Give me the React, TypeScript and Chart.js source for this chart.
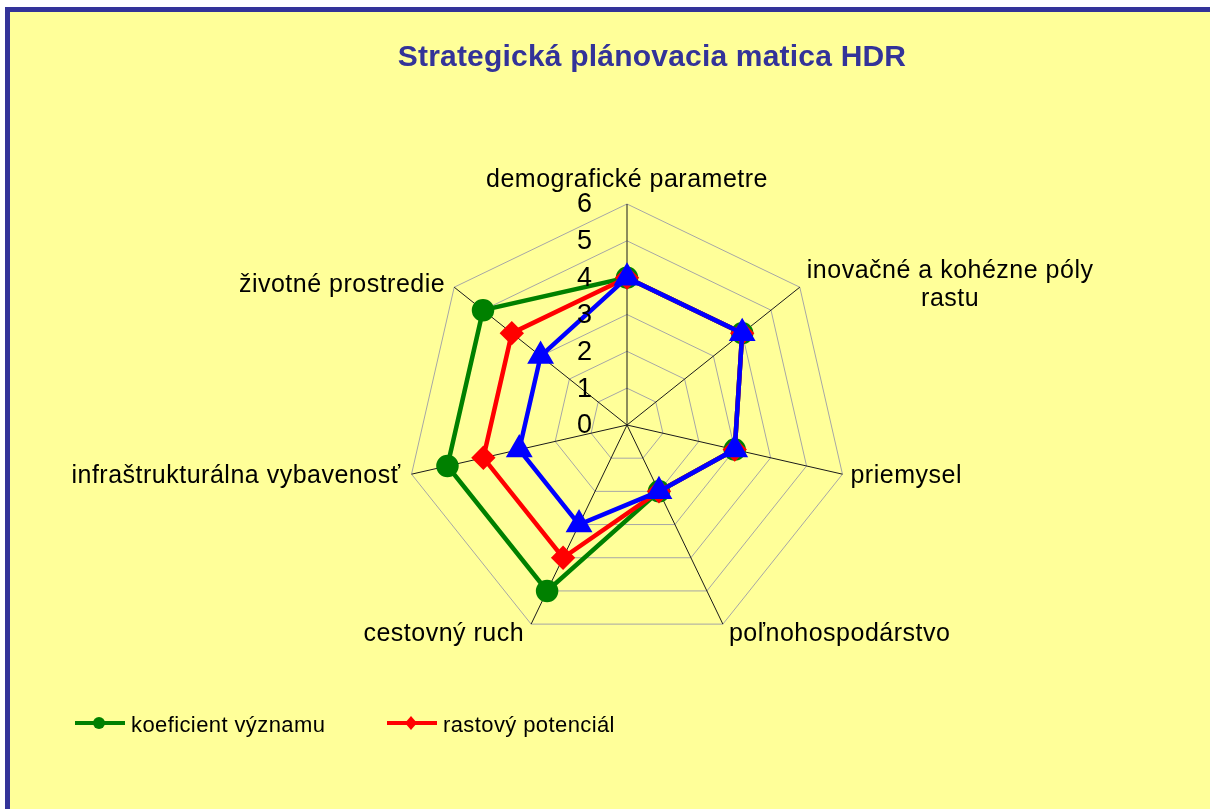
import React, { useEffect, useRef } from 'react';
import { Chart, registerables } from 'chart.js';

Chart.register(...registerables);

const chartTitle = 'Strategická plánovacia matica HDR';
const categories: (string | string[])[] = [
  'demografické parametre',
  ['inovačné a kohézne póly', 'rastu'],
  'priemysel',
  'poľnohospodárstvo',
  'cestovný ruch',
  'infraštrukturálna vybavenosť',
  'životné prostredie',
];
const koeficientVyznamu = [4, 4, 3, 2, 5, 5, 5];
const rastovyPotencial = [4, 4, 3, 2, 4, 4, 4];
const tretiaRada = [4, 4, 3, 2, 3, 3, 3];
const seriesNames = ['koeficient významu', 'rastový potenciál', 'súčasný stav'];
const axisMin = 0;
const axisMax = 6;
const axisStep = 1;

const FONT = '"Liberation Sans", Arial, sans-serif';
const GREEN = '#008000';
const RED = '#ff0000';
const BLUE = '#0000ff';

const decorPlugin = {
  id: 'decor',
  afterDatasetsDraw(chart: any) {
    const ctx: CanvasRenderingContext2D = chart.ctx;
    const scale = chart.scales.r;
    ctx.save();

    // Title
    ctx.fillStyle = '#333399';
    ctx.font = `bold 30px ${FONT}`;
    (ctx as any).letterSpacing = '0.2px';
    ctx.textAlign = 'center';
    ctx.textBaseline = 'alphabetic';
    ctx.fillText(chartTitle, 652, 66);

    // Tick labels
    ctx.fillStyle = '#000';
    ctx.font = `27px ${FONT}`;
    (ctx as any).letterSpacing = '0px';
    ctx.textAlign = 'right';
    ctx.textBaseline = 'middle';
    scale.ticks.forEach((t: any) => {
      const y = scale.yCenter - scale.getDistanceFromCenterForValue(t.value);
      ctx.fillText(String(t.label ?? t.value), scale.xCenter - 35, y + 1);
    });

    // Point labels
    ctx.font = `25px ${FONT}`;
    (ctx as any).letterSpacing = '0.5px';
    ctx.textBaseline = 'alphabetic';
    const labels = chart.data.labels as (string | string[])[];
    const lh = 28;
    labels.forEach((lab, i) => {
      const lines = Array.isArray(lab) ? lab : [lab];
      const p = scale.getPointPosition(i, scale.drawingArea);
      let deg = (scale.getIndexAngle(i) * 180) / Math.PI;
      deg = ((deg % 360) + 360) % 360;
      const widths = lines.map((l) => ctx.measureText(l).width);
      const maxW = Math.max(...widths);
      let left = p.x;
      let firstBase = p.y;
      if (deg < 1 || deg > 359) {
        left = p.x - maxW / 2;
        firstBase = p.y - 17 - (lines.length - 1) * lh;
      } else if (deg < 90) {
        left = p.x + 7;
        firstBase = p.y + 9 - ((lines.length - 1) * lh) / 2 - 4;
      } else if (deg < 135) {
        left = p.x + 8;
        firstBase = p.y + 9 - ((lines.length - 1) * lh) / 2;
      } else if (deg < 180) {
        left = p.x + 6;
        firstBase = p.y + 17;
      } else if (deg < 225) {
        left = p.x - 7 - maxW;
        firstBase = p.y + 17;
      } else if (deg < 270) {
        left = p.x - 11 - maxW;
        firstBase = p.y + 9 - ((lines.length - 1) * lh) / 2;
      } else {
        left = p.x - 9 - maxW;
        firstBase = p.y + 9 - ((lines.length - 1) * lh) / 2 - 4;
      }
      ctx.textAlign = 'center';
      lines.forEach((l, k) => {
        ctx.fillText(l, left + maxW / 2, firstBase + k * lh);
      });
    });

    // Legend (first two series)
    const legendItems = [
      { x: 75, color: GREEN, style: 'circle', name: seriesNames[0] },
      { x: 387, color: RED, style: 'diamond', name: seriesNames[1] },
    ];
    ctx.font = `22px ${FONT}`;
    (ctx as any).letterSpacing = '0.4px';
    ctx.textAlign = 'left';
    legendItems.forEach((it) => {
      const y = 723;
      ctx.strokeStyle = it.color;
      ctx.fillStyle = it.color;
      ctx.lineWidth = 4;
      ctx.beginPath();
      ctx.moveTo(it.x, y);
      ctx.lineTo(it.x + 50, y);
      ctx.stroke();
      const cx = it.x + 24;
      ctx.beginPath();
      if (it.style === 'circle') {
        ctx.arc(cx, y, 6, 0, Math.PI * 2);
      } else {
        ctx.moveTo(cx, y - 7);
        ctx.lineTo(cx + 6, y);
        ctx.lineTo(cx, y + 7);
        ctx.lineTo(cx - 6, y);
        ctx.closePath();
      }
      ctx.fill();
      ctx.fillStyle = '#000';
      ctx.fillText(it.name, it.x + 56, 732);
    });

    ctx.restore();
  },
};

export default function App() {
  const canvasRef = useRef<HTMLCanvasElement | null>(null);

  useEffect(() => {
    const canvas = canvasRef.current;
    if (!canvas) return;
    const chart = new Chart(canvas, {
      type: 'radar',
      data: {
        labels: categories,
        datasets: [
          {
            label: seriesNames[0],
            data: koeficientVyznamu,
            borderColor: GREEN,
            backgroundColor: GREEN,
            pointBackgroundColor: GREEN,
            pointBorderColor: GREEN,
            pointStyle: 'circle',
            pointRadius: 9,
            pointHoverRadius: 9,
            borderWidth: 4.5,
            fill: false,
            order: 3,
          },
          {
            label: seriesNames[1],
            data: rastovyPotencial,
            borderColor: RED,
            backgroundColor: RED,
            pointBackgroundColor: RED,
            pointBorderColor: RED,
            pointStyle: 'rectRot',
            pointRadius: 9,
            pointHoverRadius: 9,
            borderWidth: 4.5,
            fill: false,
            order: 2,
          },
          {
            label: seriesNames[2],
            data: tretiaRada,
            borderColor: BLUE,
            backgroundColor: BLUE,
            pointBackgroundColor: BLUE,
            pointBorderColor: BLUE,
            pointStyle: 'triangle',
            pointRadius: 11,
            pointHoverRadius: 11,
            borderWidth: 4.5,
            fill: false,
            order: 1,
          },
        ],
      },
      options: {
        responsive: false,
        maintainAspectRatio: false,
        animation: false,
        devicePixelRatio: 1,
        layout: { padding: { top: 204, bottom: 163, left: 406, right: 362 } },
        elements: { line: { tension: 0 } },
        plugins: {
          legend: { display: false },
          title: { display: false },
          tooltip: { enabled: false },
        },
        scales: {
          r: {
            min: axisMin,
            max: axisMax,
            ticks: { stepSize: axisStep, display: false },
            grid: { color: '#a6a6a6', lineWidth: 1 },
            angleLines: { display: true, color: '#1a1a1a', lineWidth: 1 },
            pointLabels: { display: false },
          },
        },
      },
      plugins: [decorPlugin],
    });
    return () => chart.destroy();
  }, []);

  return (
    <div style={{ position: 'fixed', left: 0, top: 0, width: 1210, height: 809, background: '#fff', overflow: 'hidden' }}>
      <div
        style={{
          position: 'absolute',
          left: 5,
          top: 7,
          width: 1210,
          height: 809,
          background: '#ffff99',
          borderLeft: '5px solid #333399',
          borderTop: '5px solid #333399',
        }}
      />
      <canvas
        ref={canvasRef}
        width={1210}
        height={809}
        style={{ position: 'absolute', left: 0, top: 0, width: 1210, height: 809, display: 'block' }}
      />
    </div>
  );
}
